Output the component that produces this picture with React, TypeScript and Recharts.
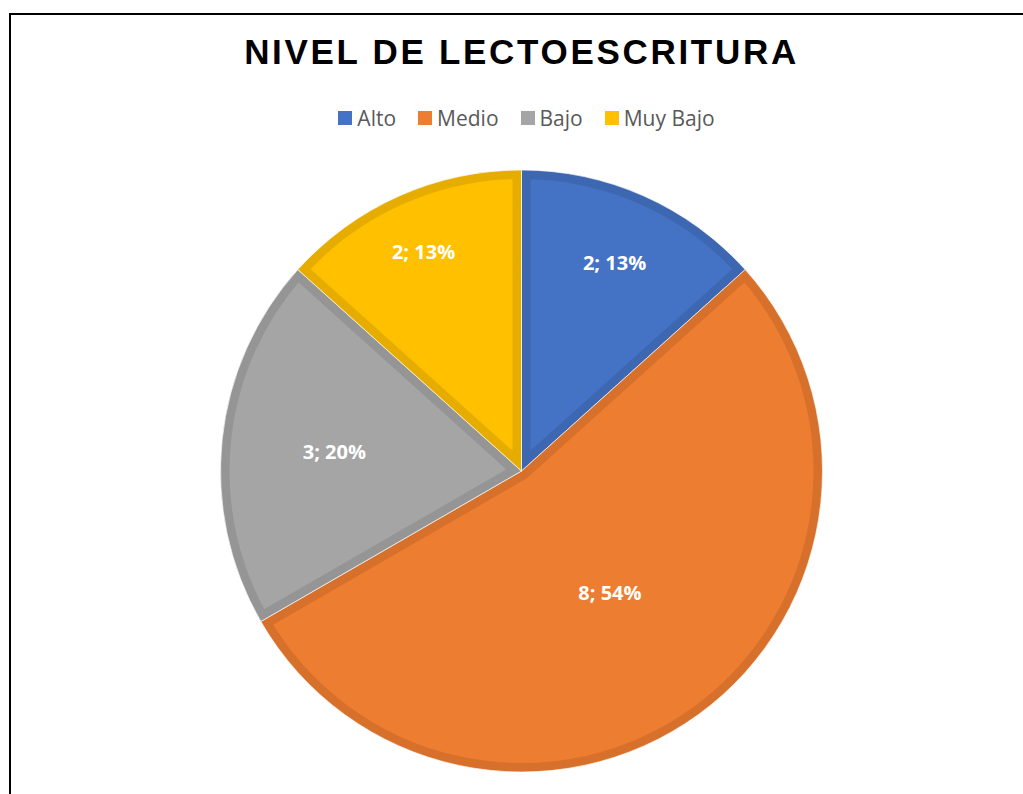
import React from 'react';
import { PieChart, Pie, Cell, Legend, Sector } from 'recharts';

const CATEGORIES = ['Alto', 'Medio', 'Bajo', 'Muy Bajo'];
const VALUES = [2, 8, 3, 2];
const PCT_LABELS = ['13%', '54%', '20%', '13%'];

const FILLS = ['#4472C4', '#ED7D31', '#A5A5A5', '#FFC000'];
const BANDS = ['#3D67B1', '#D6702B', '#959595', '#E6AD00'];
// how far out each data label sits, as a share of the radius
const LABEL_R = [0.76, 0.5, 0.625, 0.8];

const chartData = CATEGORIES.map((name, i) => ({ name, value: VALUES[i] }));

const RADIAN = Math.PI / 180;

// sector with a darker inset border, clipped to the sector itself
const renderSlice = (props: any) => {
  const { cx, cy, innerRadius, outerRadius, startAngle, endAngle, name } = props;
  const i = CATEGORIES.indexOf(name);
  const id = `slice-clip-${i}`;
  const geo = { cx, cy, innerRadius, outerRadius, startAngle, endAngle };
  return (
    <g>
      <defs>
        <clipPath id={id}>
          <Sector {...geo} />
        </clipPath>
      </defs>
      <g clipPath={`url(#${id})`}>
        <Sector {...geo} fill={FILLS[i]} stroke={BANDS[i]} strokeWidth={18} />
      </g>
      <Sector {...geo} fill="none" stroke="#ffffff" strokeOpacity={0.7} strokeWidth={1} />
    </g>
  );
};

const renderLabel = (props: any) => {
  const { cx, cy, midAngle, outerRadius, index, value } = props;
  const r = outerRadius * LABEL_R[index];
  const x = cx + r * Math.cos(-midAngle * RADIAN);
  const y = cy + r * Math.sin(-midAngle * RADIAN);
  return (
    <text
      x={x}
      y={y}
      fill="#ffffff"
      textAnchor="middle"
      dominantBaseline="central"
      style={{ fontFamily: '"Open Sans", sans-serif', fontWeight: 700, fontSize: 20 }}
    >
      {`${value}; ${PCT_LABELS[index]}`}
    </text>
  );
};

const renderLegend = (props: any) => {
  const payload = [...(props.payload || [])].sort(
    (a: any, b: any) => CATEGORIES.indexOf(a.value) - CATEGORIES.indexOf(b.value)
  );
  return (
    <div style={{ display: 'flex', justifyContent: 'center', alignItems: 'center' }}>
      {payload.map((entry: any, i: number) => (
        <div key={entry.value} style={{ display: 'flex', alignItems: 'center', marginRight: i < payload.length - 1 ? 22 : 0 }}>
          <span style={{ display: 'inline-block', width: 14, height: 14, background: FILLS[CATEGORIES.indexOf(entry.value)], marginRight: 5 }} />
          <span style={{ fontFamily: '"Open Sans", sans-serif', fontSize: 21, color: '#595959', lineHeight: '26px' }}>{entry.value}</span>
        </div>
      ))}
    </div>
  );
};

export default function App() {
  return (
    <div style={{ position: 'fixed', left: 0, top: 0, width: 1023, height: 794, overflow: 'hidden', background: '#fff' }}>
      <div style={{ position: 'absolute', left: 9, top: 13, width: 1100, height: 900, border: '2px solid #000' }} />
      <div
        style={{
          position: 'absolute',
          left: 0,
          top: 29,
          width: 1043,
          textAlign: 'center',
          fontFamily: '"Liberation Sans", Arial, sans-serif',
          fontWeight: 700,
          fontSize: 35,
          letterSpacing: 2.7,
          color: '#000',
          lineHeight: '46px',
        }}
      >
        NIVEL DE LECTOESCRITURA
      </div>
      <div style={{ position: 'absolute', left: 0, top: 0 }}>
        <PieChart width={1023} height={794} margin={{ top: 0, right: 0, bottom: 0, left: 0 }}>
          <Legend
            verticalAlign="bottom"
            content={renderLegend}
            wrapperStyle={{ position: 'absolute', top: 105, left: 15, width: 1023, bottom: 'auto' }}
          />
          <Pie
            data={chartData}
            dataKey="value"
            nameKey="name"
            cx={521.5}
            cy={471}
            outerRadius={301}
            startAngle={90}
            endAngle={-270}
            stroke="none"
            shape={renderSlice}
            activeShape={renderSlice}
            label={renderLabel}
            labelLine={false}
            isAnimationActive={false}
          >
            {chartData.map((d, i) => (
              <Cell key={d.name} fill={FILLS[i]} />
            ))}
          </Pie>
        </PieChart>
      </div>
    </div>
  );
}
